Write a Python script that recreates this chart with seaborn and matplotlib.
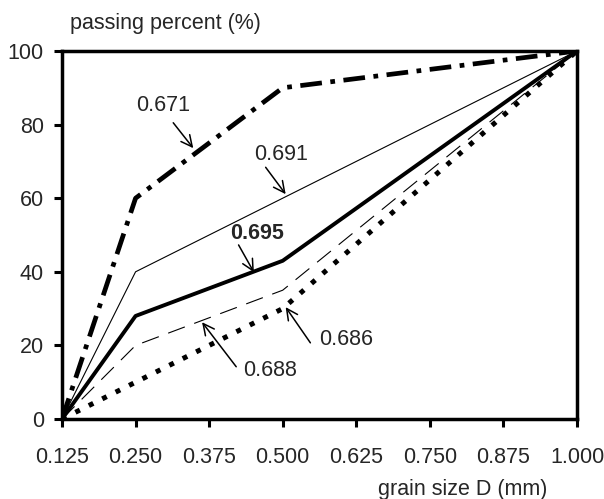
import matplotlib
matplotlib.use("Agg")
import matplotlib.pyplot as plt
import seaborn as sns
import pandas as pd

grain_size = [0.125, 0.250, 0.500, 1.000]
s_671 = [0, 60, 90, 100]
s_691 = [0, 40, 60, 100]
s_695 = [0, 28, 43, 100]
s_688 = [0, 20, 35, 100]
s_686 = [0, 10, 30, 100]
x_ticks = [0.125, 0.250, 0.375, 0.500, 0.625, 0.750, 0.875, 1.000]
x_tick_labels = ["0.125", "0.250", "0.375", "0.500", "0.625", "0.750", "0.875", "1.000"]
y_ticks = [0, 20, 40, 60, 80, 100]

sns.set_style("ticks")
plt.rcParams["font.family"] = ["Liberation Sans", "DejaVu Sans"]

W, H = 604, 499
fig = plt.figure(figsize=(W / 100, H / 100), dpi=100)
ax = fig.add_axes([62 / W, 1 - 419 / H, 515 / W, 368 / H])

styles = [
    (s_671, 3.4, (0, (4.6, 1.8, 1.0, 1.8))),
    (s_691, 0.8, "-"),
    (s_695, 2.8, "-"),
    (s_688, 0.8, (0, (16, 9))),
    (s_686, 3.6, (0, (1.0, 2.0))),
]
for vals, lw, ls in styles:
    df = pd.DataFrame({"x": grain_size, "y": vals})
    sns.lineplot(data=df, x="x", y="y", ax=ax, color="black", linewidth=lw,
                 linestyle=ls, solid_capstyle="butt", dash_capstyle="butt")

ax.set_xlim(0.125, 1.0)
ax.set_ylim(0, 100)
ax.set_xticks(x_ticks)
ax.set_xticklabels(x_tick_labels)
ax.set_yticks(y_ticks)
ax.set_xlabel("")
ax.set_ylabel("")
ax.tick_params(axis="both", labelsize=15.5, width=2.2, length=6, direction="out", color="black")
ax.tick_params(axis="x", pad=14)
ax.tick_params(axis="y", pad=7)
for sp in ax.spines.values():
    sp.set_visible(True)
    sp.set_linewidth(2.5)
    sp.set_color("black")

arrow = dict(arrowstyle="->", color="black", lw=1.1, mutation_scale=20, shrinkA=0, shrinkB=0)
ann = [
    ("0.671", (0.348, 73.6), (0.2966, 85.2), "normal", (0.314, 80.5)),
    ("0.691", (0.505, 61.1), (0.498, 72.0), "normal", (0.471, 68.4)),
    ("0.695", (0.451, 39.9), (0.456, 50.5), "bold", (0.425, 47.3)),
    ("0.688", (0.363, 26.3), (0.478, 13.3), "normal", (0.421, 14.2)),
    ("0.686", (0.505, 30.4), (0.608, 21.5), "normal", (0.547, 20.7)),
]
for txt, xy, xytext, weight, start in ann:
    ax.text(xytext[0], xytext[1], txt, fontsize=15.5, fontweight=weight,
            ha="center", va="center")
    ax.annotate("", xy=xy, xytext=start, arrowprops=arrow)

fig.text(70 / W, 1 - 24 / H, "passing percent (%)", fontsize=15.5, ha="left", va="center")
fig.text(547 / W, 1 - 489 / H, "grain size D (mm)", fontsize=15.5, ha="right", va="center")

fig.savefig("out.png", dpi=100)
